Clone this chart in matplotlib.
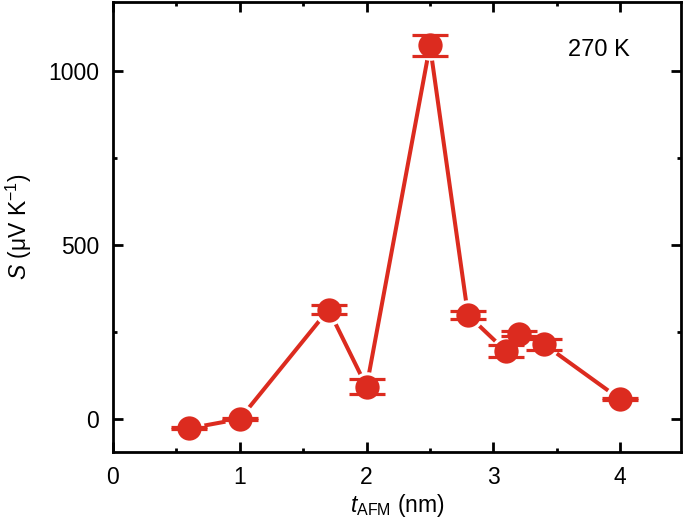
import matplotlib
matplotlib.use("Agg")
import matplotlib.pyplot as plt
from matplotlib.ticker import MultipleLocator

plt.rcParams['font.family'] = ['Liberation Sans', 'DejaVu Sans']
plt.rcParams['mathtext.fontset'] = 'custom'
plt.rcParams['mathtext.rm'] = 'Liberation Sans'
plt.rcParams['mathtext.it'] = 'Liberation Sans:italic'

t_afm = [0.6, 1.0, 1.7, 2.0, 2.5, 2.8, 3.1, 3.2, 3.4, 4.0]
seebeck = [-27, 0, 315, 93, 1075, 299, 195, 246, 215, 57]
err = [3, 3, 12, 22, 29, 12, 17, 6, 16, 3]

red = '#dc2b1f'

fig = plt.figure(figsize=(6.85, 5.28), dpi=100)
ax = fig.add_axes([113/685, 1-452/528, (681-113)/685, (452-2)/528])

ax.plot(t_afm, seebeck, '-', color=red, lw=2.9, zorder=1)
ax.plot(t_afm, seebeck, 'o', color='white', ms=22, mew=0, zorder=2)
ax.plot(t_afm, seebeck, 'o', color=red, ms=17.5, mew=0, zorder=3)
ax.errorbar(t_afm, seebeck, yerr=err, fmt='none', ecolor=red, elinewidth=0,
            capsize=13, capthick=2.3, zorder=4)

ax.set_xlim(0, 4.48)
ax.set_ylim(-95, 1200)
ax.xaxis.set_major_locator(MultipleLocator(1))
ax.xaxis.set_minor_locator(MultipleLocator(0.5))
ax.yaxis.set_major_locator(MultipleLocator(500))
ax.yaxis.set_minor_locator(MultipleLocator(250))
ax.tick_params(which='both', direction='in', top=True, right=True, width=2, labelsize=16.5, pad=10)
ax.tick_params(which='major', length=7)
ax.tick_params(which='minor', length=3)
for s in ax.spines.values():
    s.set_linewidth(2)

ax.set_xlabel(r'$\it{t}_{\rm AFM}$ (nm)', fontsize=16.5, labelpad=2)
ax.set_ylabel(r'$\it{S}$ (μV K$^{-1}$)', fontsize=16.5, labelpad=10)
ax.text(0.856, 0.893, '270 K', transform=ax.transAxes, fontsize=17,
        ha='center', va='center')

fig.savefig('out.png', dpi=100)
